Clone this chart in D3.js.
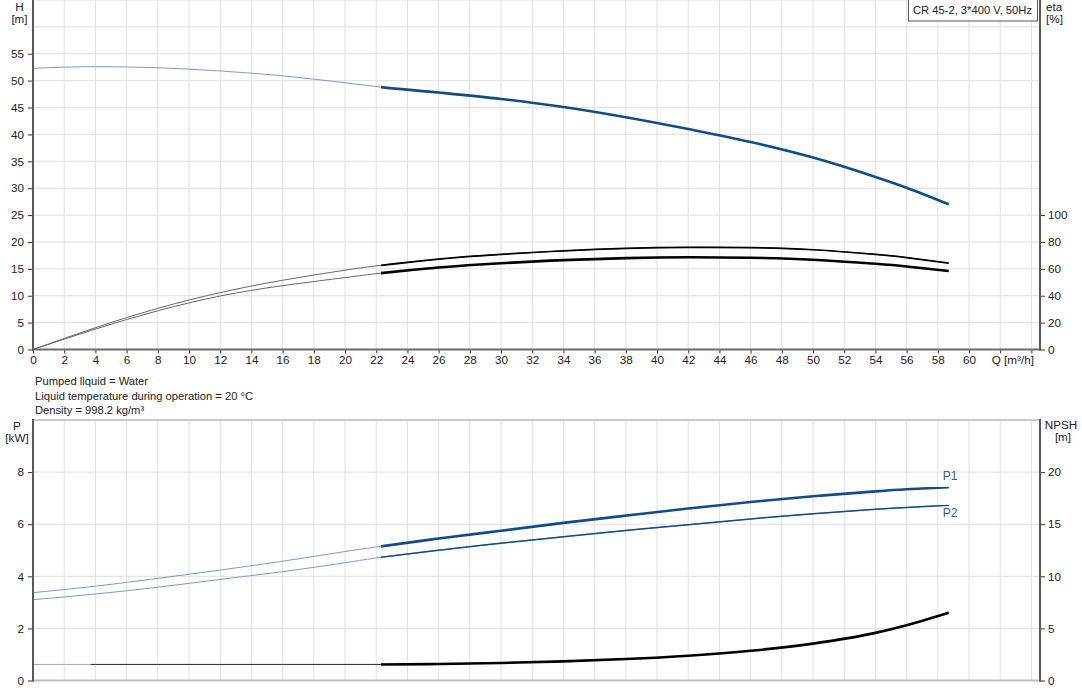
<!DOCTYPE html>
<html>
<head>
<meta charset="utf-8">
<script src="https://cdn.jsdelivr.net/npm/d3@7"></script>
<style>
  body { margin: 0; background: #fff; }
  svg { font-family: "Liberation Sans", Arial, sans-serif; font-size: 11.2px; }
  .grid line { stroke: #e0e0e0; stroke-width: 1; }
</style>
</head>
<body>
<svg id="chart"></svg>
<script>

var width = 1082,
    height = 700;

var fontSize = 11.2;

// Flow points (m3/h)
var flow = [0, 4, 8, 12, 16, 20, 22.3, 26, 30, 34, 38, 42, 46, 50, 54, 56, 58.7];
var head = [52.3, 52.6, 52.4, 51.8, 50.9, 49.6, 48.8, 47.8, 46.6, 45.1, 43.2, 41.0, 38.6, 35.7, 32.1, 30.1, 27.0];
var etaPump = [0, 16.2, 30.6, 42.3, 51.5, 59.0, 62.6, 67.3, 70.8, 73.4, 75.2, 76.0, 75.8, 74.2, 70.8, 68.4, 64.3];
var etaTotal = [0, 15.2, 28.8, 39.8, 47.5, 53.5, 56.8, 61.0, 64.2, 66.5, 68.0, 68.6, 68.2, 66.8, 63.8, 61.8, 58.4];
var powerP1 = [3.37, 3.62, 3.92, 4.24, 4.58, 4.95, 5.15, 5.45, 5.75, 6.05, 6.33, 6.6, 6.85, 7.07, 7.26, 7.34, 7.42];
var powerP2 = [3.10, 3.32, 3.58, 3.88, 4.18, 4.52, 4.73, 5.0, 5.27, 5.52, 5.76, 5.98, 6.2, 6.4, 6.57, 6.645, 6.73];
var npsh = [1.54, 1.54, 1.54, 1.54, 1.54, 1.54, 1.54, 1.58, 1.68, 1.84, 2.06, 2.38, 2.85, 3.54, 4.57, 5.3, 6.5];

var opStart = 22.3;     // start of the bold (operating) range
var npshDimEnd = 3.7;   // NPSH light part ends here

var qTicks = d3.range(0, 61, 2);
var hTicks = d3.range(0, 56, 5);
var etaTicks = d3.range(0, 101, 20);
var pTicks = [0, 2, 4, 6, 8];
var npshTicks = [0, 5, 10, 15, 20];

var infoLines = [
    "Pumped liquid = Water",
    "Liquid temperature during operation = 20 \u00b0C",
    "Density = 998.2 kg/m\u00b3"
];
var title = "CR 45-2, 3*400 V, 50Hz";

var left = 33, right = 1040;

var x = d3.scaleLinear().domain([0, 64.55]).range([left, right]);
var yH = d3.scaleLinear().domain([0, 65]).range([349.5, 0]);
var yEta = d3.scaleLinear().domain([0, 260]).range([349.5, 0]);
var yP = d3.scaleLinear().domain([0, 10]).range([680.5, 420]);
var yN = d3.scaleLinear().domain([0, 25]).range([680.5, 420]);

var svg = d3.select("#chart")
    .attr("width", width)
    .attr("height", height);

var defs = svg.append("defs");
defs.append("clipPath").attr("id", "clip-op")
    .append("rect")
        .attr("x", x(opStart)).attr("y", 0)
        .attr("width", right - x(opStart)).attr("height", height);
defs.append("clipPath").attr("id", "clip-npsh")
    .append("rect")
        .attr("x", x(npshDimEnd)).attr("y", 0)
        .attr("width", right - x(npshDimEnd)).attr("height", height);

function drawGrid(yScale, yVals, top, bottom) {
    var g = svg.append("g").attr("class", "grid");
    g.selectAll("line.v")
        .data(d3.range(2, 65, 2))
        .enter().append("line")
            .attr("x1", (d) => x(d)).attr("x2", (d) => x(d))
            .attr("y1", top).attr("y2", bottom);
    g.selectAll("line.h")
        .data(yVals)
        .enter().append("line")
            .attr("x1", left).attr("x2", right)
            .attr("y1", (d) => yScale(d)).attr("y2", (d) => yScale(d));
}

drawGrid(yH, d3.range(5, 66, 5), 0, yH(0));
drawGrid(yP, [2, 4, 6, 8], yP(10), yP(0));

// bottom chart top border
svg.append("line")
    .attr("x1", left).attr("x2", right)
    .attr("y1", yP(10)).attr("y2", yP(10))
    .attr("stroke", "#c8c8c8").attr("stroke-width", 2);

// ---- curves
function series(vals, yScale) {
    return flow.map((q, i) => [x(q), yScale(vals[i])]);
}
var line = d3.line().curve(d3.curveNatural);
var lineMono = d3.line().curve(d3.curveMonotoneX);

function curve(pts, color, w, clip, gen) {
    var p = svg.append("path")
        .attr("d", (gen || line)(pts))
        .attr("fill", "none")
        .attr("stroke", color)
        .attr("stroke-width", w)
        .attr("stroke-linecap", "butt");
    if (clip) p.attr("clip-path", "url(#" + clip + ")");
    return p;
}

var blue = "#0e4c8c", blueThin = "#7e9cc0";

curve(series(head, yH), blueThin, 1, null, lineMono);
curve(series(head, yH), blue, 2.6, "clip-op", lineMono);

curve(series(etaPump, yEta), "#666", 1);
curve(series(etaTotal, yEta), "#666", 1);
curve(series(etaPump, yEta), "#000", 1.7, "clip-op");
curve(series(etaTotal, yEta), "#000", 2.6, "clip-op");

curve(series(powerP1, yP), blueThin, 1);
curve(series(powerP2, yP), blueThin, 1);
curve(series(powerP1, yP), blue, 2.6, "clip-op");
curve(series(powerP2, yP), blue, 1.5, "clip-op");

curve(series(npsh, yN), "#aaa", 1, null, lineMono);
curve(series(npsh, yN), "#333", 1, "clip-npsh", lineMono);
curve(series(npsh, yN), "#000", 2.6, "clip-op", lineMono);

// P1 / P2 labels
var lastQ = flow[flow.length - 1];
svg.append("text").text("P1")
    .attr("x", x(lastQ) - 6).attr("y", yP(powerP1[powerP1.length - 1]) - 7)
    .attr("fill", "#2d5f98").attr("font-size", 12);
svg.append("text").text("P2")
    .attr("x", x(lastQ) - 6).attr("y", yP(powerP2[powerP2.length - 1]) + 12)
    .attr("fill", "#2d5f98").attr("font-size", 12);

// ---- axes
var axisColor = "#595959";

svg.append("g")
    .attr("transform", "translate(" + left + ",0)")
    .call(d3.axisLeft(yH).tickValues(hTicks).tickSize(5).tickPadding(4));

svg.append("g")
    .attr("transform", "translate(" + right + ",0)")
    .call(d3.axisRight(yEta).tickValues(etaTicks).tickSize(5).tickPadding(3));

svg.append("g")
    .attr("transform", "translate(0," + yH(0) + ")")
    .call(d3.axisBottom(x).tickValues(qTicks.concat([62, 64]))
        .tickFormat((d) => d > 60 ? "" : d).tickSize(4).tickPadding(2));

svg.append("g")
    .attr("transform", "translate(" + left + ",0)")
    .call(d3.axisLeft(yP).tickValues(pTicks).tickSize(5).tickPadding(4));

svg.append("g")
    .attr("transform", "translate(" + right + ",0)")
    .call(d3.axisRight(yN).tickValues(npshTicks).tickSize(5).tickPadding(3));

svg.selectAll(".domain").remove();
svg.selectAll(".tick line").attr("stroke", "#333");
svg.selectAll(".tick text").attr("fill", "#222").attr("font-size", fontSize + 0.5)
    .attr("font-family", "'Liberation Sans', Arial, sans-serif");

// axis lines
function vline(xp, y1, y2, c) {
    svg.append("line").attr("x1", xp).attr("x2", xp).attr("y1", y1).attr("y2", y2)
        .attr("stroke", c).attr("stroke-width", 2);
}
function hline(yp, c) {
    svg.append("line").attr("x1", left).attr("x2", right).attr("y1", yp).attr("y2", yp)
        .attr("stroke", c).attr("stroke-width", 2);
}
hline(yH(0), "#6b6b6b");
hline(yP(0), "#bdbdbd");
vline(left, 0, yH(0) + 1, axisColor);
vline(right, 0, yH(0) + 1, axisColor);
vline(left, yP(10) - 1, yP(0) + 1, axisColor);
vline(right, yP(10) - 1, yP(0) + 1, axisColor);

// axis titles
function label(txt, xp, yp, anchor) {
    svg.append("text").text(txt)
        .attr("x", xp).attr("y", yp)
        .attr("text-anchor", anchor || "middle")
        .attr("fill", "#222").attr("font-size", fontSize + 0.5);
}
label("H", 19.5, 11);
label("[m]", 19.5, 23);
label("eta", 1046, 11, "start");
label("[%]", 1046, 23, "start");
label("Q [m\u00b3/h]", 1034, 364, "end");
label("P", 17, 430);
label("[kW]", 17, 442);
label("NPSH", 1061, 429);
label("[m]", 1063, 441);

// info text
svg.selectAll("text.info")
    .data(infoLines)
    .enter().append("text")
        .attr("class", "info")
        .attr("x", 35)
        .attr("y", (d, i) => 385 + i * 14.5)
        .attr("fill", "#222").attr("font-size", fontSize)
        .text((d) => d);

// title box
var tb = svg.append("g");
tb.append("rect")
    .attr("x", 908.5).attr("y", -1)
    .attr("width", 129).attr("height", 22)
    .attr("fill", "#fff").attr("stroke", "#555");
tb.append("text").text(title)
    .attr("x", 913).attr("y", 14)
    .attr("fill", "#222").attr("font-size", fontSize);

</script>
</body>
</html>
